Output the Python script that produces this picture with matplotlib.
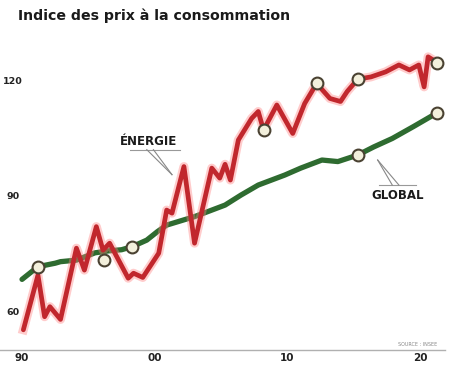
import numpy as np
import matplotlib.pyplot as plt

# données
annees_global = [1990.0, 1991.2, 1992.5, 1992.9, 1994.1, 1995.5, 1996.5, 1997.5, 1998.3,
                 1999.4, 2000.2, 2000.9, 2003.0, 2005.3, 2006.5, 2007.8, 2009.8, 2011.0,
                 2012.6, 2013.8, 2015.3, 2016.5, 2017.9, 2019.5, 2021.3]
global_ = [68.6, 71.9, 72.8, 73.2, 73.6, 75.5, 76.0, 76.3, 77.1,
           78.8, 81.0, 82.7, 84.9, 87.9, 90.5, 93.1, 95.7, 97.5,
           99.6, 99.2, 100.9, 103.0, 105.2, 108.3, 111.9]

annees_energie = [1990.1, 1991.2, 1991.7, 1992.1, 1992.9, 1994.1, 1994.7, 1995.6, 1996.1,
                  1996.6, 1998.0, 1998.4, 1999.1, 2000.3, 2000.9, 2001.3, 2002.2, 2003.0,
                  2004.3, 2004.9, 2005.3, 2005.7, 2006.3, 2007.3, 2007.8, 2008.2, 2008.6,
                  2009.2, 2010.4, 2011.3, 2012.2, 2013.2, 2014.0, 2014.5, 2015.3, 2016.3,
                  2017.4, 2018.4, 2019.2, 2019.9, 2020.3, 2020.6, 2021.3]
energie = [55.5, 69.7, 58.9, 61.5, 58.2, 76.7, 71.0, 82.3, 76.2,
           78.0, 68.9, 70.2, 69.1, 75.4, 86.6, 85.8, 97.9, 78.0,
           97.5, 94.9, 98.5, 94.4, 104.8, 110.4, 112.2, 107.4, 110.0,
           113.9, 106.5, 114.3, 119.5, 115.6, 114.8, 117.4, 120.6, 121.2,
           122.5, 124.3, 123.0, 124.3, 118.6, 126.4, 124.9]

points_x = [1991.2, 1998.3, 2015.3, 2021.3, 1996.2, 2008.2, 2012.2, 2015.3, 2021.3]
points_y = [71.9, 77.1, 100.9, 111.9, 73.6, 107.4, 119.5, 120.6, 124.9]

yticks = [60, 90, 120]
xticks = [1990, 2000, 2010, 2020]
xlabels = ['90', '00', '10', '20']

fig = plt.figure(figsize=(4.5, 3.68), dpi=100)
ax = fig.add_axes([0, 0, 1, 1])
ax.set_xlim(1988.34, 2022.25)
ax.set_ylim(45.58, 141.17)
ax.axis('off')

# axe horizontal
ax.plot([1988.05, 2021.9], [50.3, 50.3], color='#b0b0b0', lw=1)

# lignes
ax.plot(annees_global, global_, color='#2e6b30', lw=3.8, solid_joinstyle='round', solid_capstyle='round')
ax.plot(annees_energie, energie, color='#ff8080', lw=6.5, alpha=0.4, solid_joinstyle='round')
ax.plot(annees_energie, energie, color='#c1272d', lw=3.4, solid_joinstyle='round', solid_capstyle='round')

ax.plot(points_x, points_y, 'o', ms=8.5, mfc='#f3f0dc', mec='#4a4232', mew=1.5, zorder=5)

# étiquettes
for v in yticks:
    ax.text(1989.3, v, str(v), ha='center', va='center', fontsize=6.8, fontweight='bold',
            color='#222222')
for x, s in zip(xticks, xlabels):
    ax.text(x, 48.3, s, ha='center', va='center', fontsize=7.5, fontweight='bold',
            color='#222222')

fig.text(0.04, 0.957, 'Indice des prix à la consommation', fontsize=10.2, fontweight='bold',
         color='#1a1a1a', va='center')

ax.text(2019.8, 51.7, 'SOURCE : INSEE', fontsize=3.5, color='#888888', ha='center', va='center')

# ÉNERGIE
ax.text(1999.5, 104.5, 'ÉNERGIE', fontsize=8.5, fontweight='bold', ha='center', va='center',
        color='#1a1a1a')
ax.plot([1998.1, 2001.9], [102.3, 102.3], color='#999999', lw=0.8)
ax.plot([1999.4, 2001.3], [102.3, 95.8], color='#888888', lw=0.8)
ax.plot([1999.9, 2001.3], [102.3, 95.8], color='#888888', lw=0.8)

# GLOBAL
ax.text(2018.3, 90.5, 'GLOBAL', fontsize=8.5, fontweight='bold', ha='center', va='center',
        color='#1a1a1a')
ax.plot([2016.9, 2019.7], [93.1, 93.1], color='#999999', lw=0.8)
ax.plot([2016.8, 2018.4], [99.6, 93.1], color='#888888', lw=0.8)
ax.plot([2016.8, 2017.9], [99.6, 93.1], color='#888888', lw=0.8)

fig.savefig('out.png', dpi=100)
